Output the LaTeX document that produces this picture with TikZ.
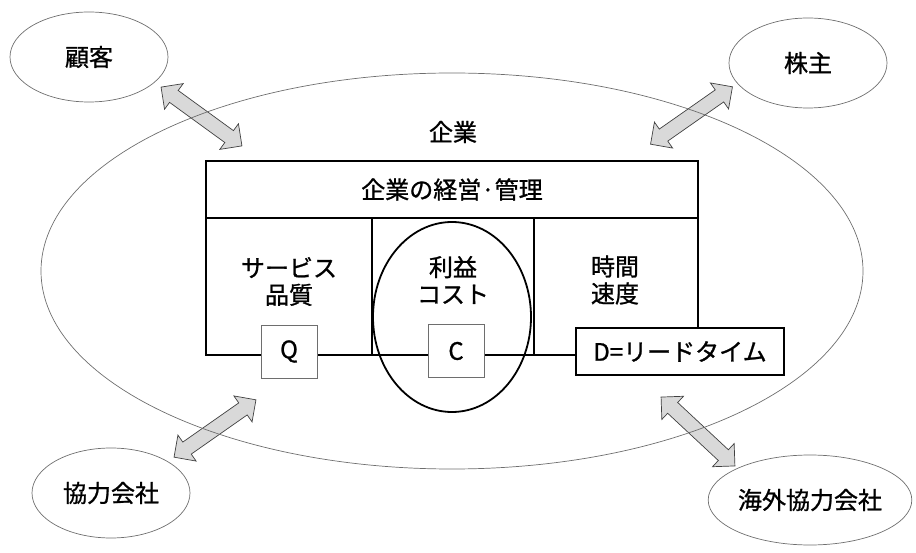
\documentclass[tikz,border=0pt]{standalone}
\usepackage{fontspec}
\setmainfont{Noto Sans CJK JP}[FakeBold=1]
\usetikzlibrary{shapes.geometric,shapes.arrows}
\definecolor{arrowcol}{RGB}{217,217,217}
\definecolor{thincol}{RGB}{110,110,110}

\tikzset{
  party/.style={ellipse, draw=thincol, line width=0.7pt, minimum width=158pt, minimum height=90pt, inner sep=0pt},
  cell/.style={draw, line width=1.1pt, inner sep=0pt},
  qcdbox/.style={draw=thincol, fill=white, line width=0.8pt, minimum width=56pt, minimum height=53pt, inner sep=0pt},
  biarrow/.style={double arrow, draw=black!75, fill=arrowcol, line width=0.7pt, minimum height=100pt, minimum width=31pt, double arrow head extend=8.5pt, inner xsep=0pt, inner ysep=7pt},
}

\begin{document}
\begin{tikzpicture}[x=1pt, y=-1pt, font=\fontsize{24}{27}\selectfont]
    \useasboundingbox (0,0) rectangle (916,553);

    % Partners around the company
    \node[party] (kokyaku) at (89,57) {顧客};
    \node[party] (kabunushi) at (808,63) {株主};
    \node[party] (kyoryoku) at (111,493) {協力会社};
    \node[party, minimum width=186pt] (kaigai) at (810,500) {海外協力会社};

    % Two-way arrows
    \node[biarrow, rotate=-36] (a1) at (201.5,116.5) {};
    \node[biarrow, rotate=35] (a2) at (691.5,115.5) {};
    \node[biarrow, rotate=35] (a3) at (215,428.5) {};
    \node[biarrow, rotate=-43, minimum height=101pt] (a4) at (698,431.5) {};

    % The company
    \node[ellipse, draw=thincol, line width=0.7pt, minimum width=822pt, minimum height=396pt] (kigyo) at (452,271) {};
    \node (kigyo-txt) at (453,132) {企業};

    % Management block
    \node[cell, minimum width=492pt, minimum height=57pt] (keiei) at (452,189.5) {企業の経営·管理};
    \node[cell, minimum width=166pt, minimum height=137pt] (hinshitsu) at (289,286.5) {};
    \node[cell, minimum width=162pt, minimum height=137pt] (cost) at (453,286.5) {};
    \node[cell, minimum width=164pt, minimum height=137pt] (jikan) at (616,286.5) {};

    \node[align=center] (hinshitsu-txt) at (289,281.5) {サービス\\品質};
    \node[align=center] (cost-txt) at (453,280) {利益\\コスト};
    \node[align=center] (jikan-txt) at (615,280) {時間\\速度};

    % Profit / cost circle
    \node[ellipse, draw, line width=1.8pt, minimum width=158pt, minimum height=190pt] (rieki) at (452,317) {};

    % Q, C, D
    \node[qcdbox] (q) at (289,351.5) {Q};
    \node[qcdbox] (c) at (456,351) {C};
    \node[qcdbox, draw=black, line width=1.1pt, minimum width=208pt, minimum height=47pt] (d) at (680,351.5) {D=リードタイム};

\end{tikzpicture}
\end{document}
